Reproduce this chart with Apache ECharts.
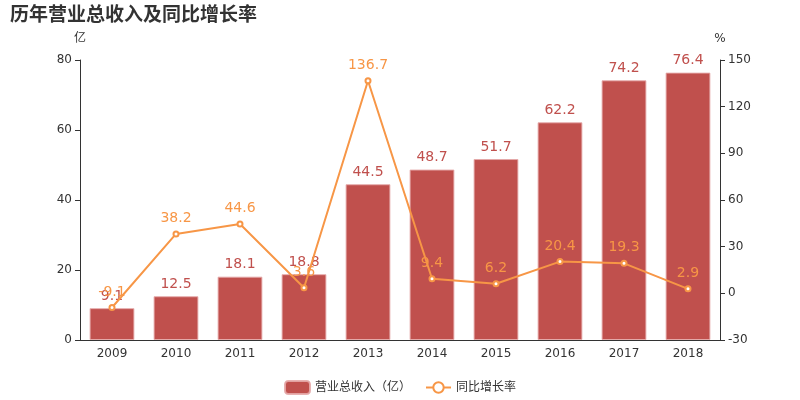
<!DOCTYPE html>
<html>
<head>
<meta charset="utf-8">
<script src="https://cdn.jsdelivr.net/npm/echarts@6/dist/echarts.min.js"></script>
<style>
  html, body { margin: 0; padding: 0; background: #fff; }
  #chart { width: 800px; height: 400px; }
</style>
</head>
<body>
<div id="chart"></div>
<script>
// 年份
var years = ["2009", "2010", "2011", "2012", "2013", "2014", "2015", "2016", "2017", "2018"];
// 营业总收入（亿）
var revenue = [9.1, 12.5, 18.1, 18.8, 44.5, 48.7, 51.7, 62.2, 74.2, 76.4];
// 同比增长率（%）
var growth = [-9.1, 38.2, 44.6, 3.6, 136.7, 9.4, 6.2, 20.4, 19.3, 2.9];

var barColor = "#c0504d";
var lineColor = "#f79646";
var fontFamily = "DejaVu Sans, Noto Sans CJK SC, sans-serif";

var myChart = echarts.init(document.getElementById("chart"));

var option = {
  textStyle: { fontFamily: fontFamily },
  title: {
    text: "历年营业总收入及同比增长率",
    left: 5,
    top: 2,
    textStyle: { fontSize: 19, fontWeight: "bold", color: "#333", fontFamily: fontFamily }
  },
  legend: {
    bottom: 0,
    left: "center",
    itemWidth: 25,
    itemHeight: 13,
    itemGap: 14,
    textStyle: { fontSize: 12, color: "#333" },
    data: [
      { name: "营业总收入（亿）", icon: "roundRect" },
      { name: "同比增长率" }
    ]
  },
  grid: { left: 80, right: 80, top: 60, bottom: 60 },
  xAxis: {
    type: "category",
    data: years,
    axisLine: { lineStyle: { color: "#333" } },
    axisTick: { lineStyle: { color: "#333" } },
    axisLabel: { color: "#333", fontSize: 12 }
  },
  yAxis: [
    {
      type: "value",
      name: "亿",
      nameGap: 15,
      nameTextStyle: { color: "#333", fontSize: 12, align: "center" },
      min: 0,
      max: 80,
      interval: 20,
      axisLine: { show: true, lineStyle: { color: "#333" } },
      axisTick: { show: true, lineStyle: { color: "#333" } },
      axisLabel: { color: "#333", fontSize: 12 },
      splitLine: { show: false }
    },
    {
      type: "value",
      name: "%",
      nameGap: 15,
      nameTextStyle: { color: "#333", fontSize: 12, align: "center" },
      min: -30,
      max: 150,
      interval: 30,
      axisLine: { show: true, lineStyle: { color: "#333" } },
      axisTick: { show: true, lineStyle: { color: "#333" } },
      axisLabel: { color: "#333", fontSize: 12 },
      splitLine: { show: false }
    }
  ],
  series: [
    {
      name: "营业总收入（亿）",
      type: "bar",
      data: revenue,
      barWidth: "70%",
      itemStyle: {
        color: barColor,
        borderColor: "rgba(230,170,170,0.9)",
        borderWidth: 1
      },
      label: {
        show: true,
        position: "top",
        color: barColor,
        fontSize: 14
      }
    },
    {
      name: "同比增长率",
      type: "line",
      yAxisIndex: 1,
      data: growth,
      symbol: "emptyCircle",
      symbolSize: 5,
      lineStyle: { color: lineColor, width: 2 },
      itemStyle: { color: lineColor, borderWidth: 1.5 },
      label: {
        show: true,
        position: "top",
        color: lineColor,
        fontSize: 14
      }
    }
  ]
};

myChart.setOption(option);
</script>
</body>
</html>
